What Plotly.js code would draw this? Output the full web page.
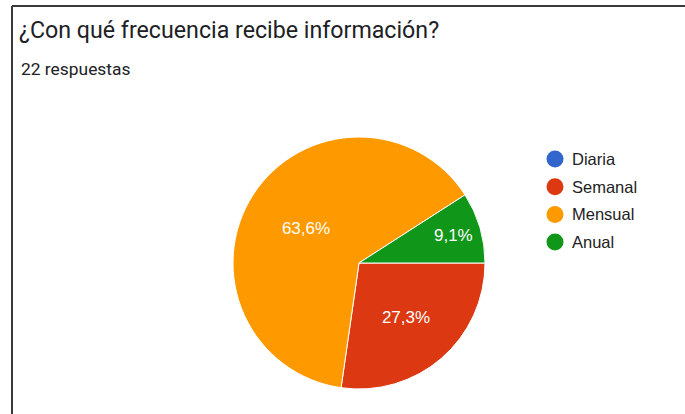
<!DOCTYPE html>
<html><head><meta charset="utf-8">
<script src="https://cdn.plot.ly/plotly-3.0.1.min.js"></script>
<style>html,body{margin:0;padding:0;background:#fff}#chart{width:685px;height:414px}</style>
</head><body><div id="chart"></div>
<script>
const categories = ["Diaria", "Semanal", "Mensual", "Anual"];
const counts = [0, 6, 14, 2];
const colors = ["#3366cc", "#dc3912", "#ff9900", "#109618"];
const titleText = "¿Con qué frecuencia recibe información?";
const subtitleText = "22 respuestas";

const W = 685, H = 414;
const px = v => v / W, py = v => 1 - v / H;

const pie = {
  type: "pie",
  labels: categories,
  values: counts,
  sort: false,
  direction: "clockwise",
  rotation: 90,
  marker: {colors: colors, line: {color: "#ffffff", width: 1}},
  textinfo: "percent",
  texttemplate: "%{percent:.1%}",
  textposition: "inside",
  insidetextorientation: "horizontal",
  textfont: {family: "Liberation Sans, Arial, sans-serif", size: 17, color: "#ffffff"},
  hoverinfo: "label+value+percent",
  showlegend: false,
  domain: {x: [px(233), px(485)], y: [py(389), py(137)]}
};

const shapes = [
  {type: "line", xref: "paper", yref: "paper", x0: px(12), x1: 1, y0: py(6), y1: py(6), line: {color: "#3a3a3a", width: 2}},
  {type: "line", xref: "paper", yref: "paper", x0: px(12), x1: px(12), y0: py(6), y1: 0, line: {color: "#3a3a3a", width: 2}}
];
const annotations = [
  {text: subtitleText, xref: "paper", yref: "paper", x: px(19), y: py(69), xanchor: "left", yanchor: "middle", showarrow: false,
   font: {family: "Roboto, sans-serif", size: 17.4, color: "#202124"}}
];
const legendTop = 159, legendGap = 27.7;
categories.forEach((c, i) => {
  const yc = legendTop + i * legendGap;
  shapes.push({type: "circle", xref: "paper", yref: "paper", xsizemode: "pixel", ysizemode: "pixel",
    xanchor: px(555), yanchor: py(yc), x0: -8.5, x1: 8.5, y0: -8.5, y1: 8.5,
    fillcolor: colors[i], line: {width: 0}});
  annotations.push({text: c, xref: "paper", yref: "paper", x: px(570), y: py(yc), xanchor: "left", yanchor: "middle",
    showarrow: false, font: {family: "Liberation Sans, Arial, sans-serif", size: 16.5, color: "#222222"}});
});

const layout = {
  width: W, height: H,
  margin: {l: 0, r: 0, t: 0, b: 0},
  paper_bgcolor: "#ffffff",
  separators: ",.",
  showlegend: false,
  title: {text: titleText, x: px(19), xanchor: "left", xref: "paper", y: py(30), yanchor: "middle", yref: "paper",
    font: {family: "Roboto, sans-serif", size: 23.2, color: "#202124"}},
  shapes: shapes,
  annotations: annotations
};
Plotly.newPlot("chart", [pie], layout, {displayModeBar: false, staticPlot: true});
</script></body></html>
